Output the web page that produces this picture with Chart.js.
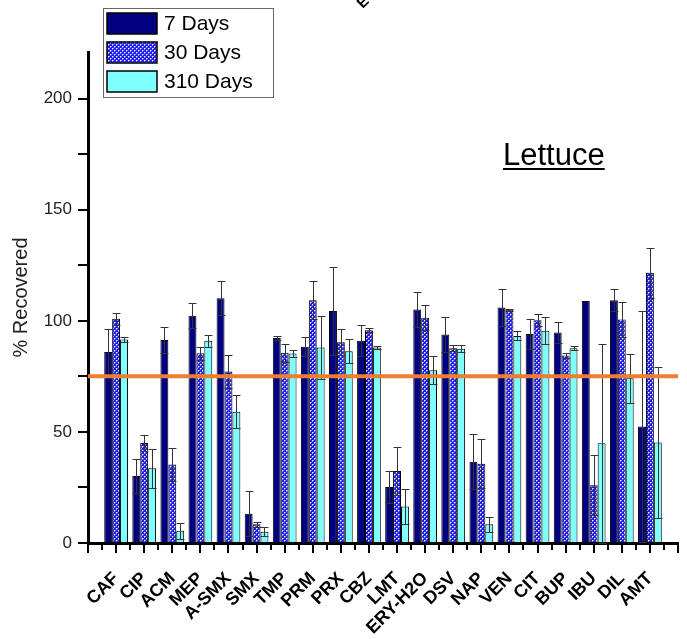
<!DOCTYPE html>
<html>
<head>
<meta charset="utf-8">
<script src="https://cdn.jsdelivr.net/npm/chart.js@4.4.1/dist/chart.umd.min.js"></script>
<style>
  html, body { margin: 0; padding: 0; background: #fff; }
  #wrap { position: relative; width: 687px; height: 639px; }
</style>
</head>
<body>
<div id="wrap"><canvas id="c" width="687" height="639"></canvas></div>
<script>
// Compounds analysed in lettuce
const compounds = ['CAF', 'CIP', 'ACM', 'MEP', 'A-SMX', 'SMX', 'TMP', 'PRM', 'PRX', 'CBZ',
                   'LMT', 'ERY-H2O', 'DSV', 'NAP', 'VEN', 'CIT', 'BUP', 'IBU', 'DIL', 'AMT'];

// % recovered after 7 days of storage, with standard deviation
const days7  = [86, 30.2, 91.4, 102.3, 110.2, 13.2, 92.3, 88.3, 104.4, 91, 25.2, 105.1, 93.8, 36.6, 106, 94.1, 94.7, 108.9, 109.3, 52.4];
const err7   = [10.5, 7.6, 6, 5.7, 7.7, 10, 1, 4.3, 20, 7, 7.2, 7.7, 8, 12.4, 8.3, 6.6, 4.7, 0, 5, 52];

// % recovered after 30 days
const days30 = [100.9, 45, 35.3, 85.4, 77.2, 8.4, 85.6, 109.3, 90.4, 95.8, 32.4, 101.4, 87.7, 35.7, 105, 100.3, 84.4, 26, 100.6, 121.6];
const err30  = [2.6, 3.5, 7.4, 3, 7.5, 1, 4, 8.5, 6, 1, 10.8, 5.5, 1.5, 11, 0.5, 2.7, 1, 13.6, 8, 11.3];

// % recovered after 310 days
const days310 = [91.6, 33.6, 5.5, 91, 59.1, 5.1, 85.3, 88, 86.3, 88, 16.4, 77.8, 87.4, 8.4, 93.2, 95.5, 87.7, 44.9, 74.2, 45.2];
const err310  = [1, 8.8, 3.6, 2.8, 7.4, 2, 1.6, 14, 5.4, 0.5, 7.8, 6.2, 1.6, 3.3, 2, 6, 1, 44.7, 11, 34];

const seriesLabels = ['7 Days', '30 Days', '310 Days'];
const yTickValues = [0, 25, 50, 75, 100, 125, 150, 175, 200];
const yLabelValues = [0, 50, 100, 150, 200];
const acceptLevel = 75;
const panelTitle = 'Lettuce';

const FONT = "'Liberation Sans', Arial, Helvetica, sans-serif";

// blue fill with a lattice of white dots
function dotPattern() {
  const t = document.createElement('canvas');
  t.width = 4; t.height = 4;
  const g = t.getContext('2d');
  g.fillStyle = '#1f1fe8';
  g.fillRect(0, 0, 4, 4);
  g.fillStyle = 'rgba(255,255,255,0.45)';
  g.fillRect(1, 0, 1, 1); g.fillRect(0, 1, 1, 1);
  g.fillRect(3, 2, 1, 1); g.fillRect(2, 3, 1, 1);
  g.fillStyle = '#ffffff';
  g.fillRect(0, 0, 1, 1);
  g.fillRect(2, 2, 1, 1);
  return g.createPattern(t, 'repeat');
}
const canvas = document.getElementById('c');
const pattern30 = dotPattern();

// one empty slot at each end so the axis runs a full category past the outer groups
const pad = arr => [null, ...arr, null];
const xLabels = ['', ...compounds, ''];

const fills = ['#000080', pattern30, '#80ffff'];

const errorBars = {
  id: 'errorBars',
  afterDatasetsDraw(chart) {
    const ctx = chart.ctx, y = chart.scales.y;
    ctx.save();
    ctx.strokeStyle = '#333';
    ctx.lineWidth = 1;
    chart.data.datasets.forEach((ds, i) => {
      const meta = chart.getDatasetMeta(i);
      meta.data.forEach((bar, j) => {
        const v = ds.data[j], e = ds.errors[j];
        if (v == null || !e) return;
        const x = Math.round(bar.x) + 0.5;
        const top = Math.round(y.getPixelForValue(v + e)) + 0.5;
        const bot = Math.round(y.getPixelForValue(Math.max(v - e, 0))) + 0.5;
        const hw = bar.width / 2;
        ctx.beginPath();
        ctx.moveTo(x, top); ctx.lineTo(x, bot);
        ctx.moveTo(x - hw, top); ctx.lineTo(x + hw, top);
        ctx.moveTo(x - hw, bot); ctx.lineTo(x + hw, bot);
        ctx.stroke();
      });
    });
    // acceptance level
    const ca = chart.chartArea;
    const ly = y.getPixelForValue(acceptLevel);
    ctx.strokeStyle = '#ed7d31';
    ctx.lineWidth = 4;
    ctx.beginPath();
    ctx.moveTo(ca.left, ly); ctx.lineTo(ca.right, ly);
    ctx.stroke();
    ctx.restore();
  }
};

const decorations = {
  id: 'decorations',
  afterDraw(chart) {
    const ctx = chart.ctx, x = chart.scales.x, ca = chart.chartArea;
    ctx.save();
    // minor ticks between categories
    ctx.strokeStyle = '#000';
    ctx.lineWidth = 2;
    for (let i = 0; i < xLabels.length - 1; i++) {
      const px = Math.round((x.getPixelForValue(i) + x.getPixelForValue(i + 1)) / 2);
      ctx.beginPath();
      ctx.moveTo(px, ca.bottom); ctx.lineTo(px, ca.bottom + 7);
      ctx.stroke();
    }

    // legend
    const lx = 103, ly = 8, lw = 170, lh = 89;
    ctx.strokeStyle = '#666';
    ctx.lineWidth = 1;
    ctx.strokeRect(lx + 0.5, ly + 0.5, lw, lh);
    chart.data.datasets.forEach((ds, i) => {
      const sy = 13 + i * 29;
      ctx.fillStyle = ds.backgroundColor;
      ctx.fillRect(107, sy, 50, 21);
      ctx.strokeStyle = '#000';
      ctx.lineWidth = 1.5;
      ctx.strokeRect(107, sy, 50, 21);
      ctx.fillStyle = '#000';
      ctx.font = '21px ' + FONT;
      ctx.textBaseline = 'middle';
      ctx.textAlign = 'left';
      ctx.fillText(ds.label, 164, sy + 11);
    });

    // panel title
    ctx.font = '31px ' + FONT;
    ctx.fillStyle = '#000';
    ctx.textBaseline = 'alphabetic';
    ctx.fillText(panelTitle, 503, 165);
    const tw = ctx.measureText(panelTitle).width;
    ctx.fillRect(503, 168, tw, 2);

    // letter of a neighbouring label cut by the top edge
    ctx.save();
    ctx.translate(367, -1);
    ctx.rotate(-Math.PI / 4);
    ctx.font = 'bold 15px ' + FONT;
    ctx.textAlign = 'right';
    ctx.textBaseline = 'middle';
    ctx.fillText('E', 0, 0);
    ctx.restore();
    ctx.restore();
  }
};

new Chart(canvas, {
  type: 'bar',
  data: {
    labels: xLabels,
    datasets: [
      { label: seriesLabels[0], data: pad(days7),   errors: pad(err7),   backgroundColor: fills[0] },
      { label: seriesLabels[1], data: pad(days30),  errors: pad(err30),  backgroundColor: fills[1] },
      { label: seriesLabels[2], data: pad(days310), errors: pad(err310), backgroundColor: fills[2] }
    ].map(d => Object.assign(d, {
      borderColor: '#000', borderWidth: 1, borderSkipped: 'bottom',
      categoryPercentage: 0.845, barPercentage: 1
    }))
  },
  options: {
    responsive: false,
    animation: false,
    devicePixelRatio: 1,
    layout: { padding: { top: 52, right: 9, left: 0, bottom: 0 } },
    plugins: { legend: { display: false }, tooltip: { enabled: false } },
    scales: {
      x: {
        type: 'category',
        offset: false,
        afterFit: s => { s.height = 96; s.paddingLeft = 0; s.paddingRight = 0; },
        grid: { drawOnChartArea: false, drawTicks: true, tickLength: 10, color: '#000', lineWidth: 2, offset: false },
        border: { display: true, color: '#000', width: 3 },
        ticks: {
          autoSkip: false, minRotation: 45, maxRotation: 45, padding: 15,
          color: '#000', font: { family: FONT, size: 18, weight: 'bold' }
        }
      },
      y: {
        min: 0, max: 221,
        afterFit: s => { s.width = 88; s.paddingTop = 0; s.paddingBottom = 0; },
        afterBuildTicks: s => { s.ticks = yTickValues.map(v => ({ value: v })); },
        grid: { drawOnChartArea: false, drawTicks: true, tickLength: 10, color: '#000', lineWidth: 2 },
        border: { display: true, color: '#000', width: 3 },
        ticks: {
          padding: 6, color: '#222', font: { family: FONT, size: 17 },
          callback: v => yLabelValues.includes(v) ? String(v) : ''
        },
        title: { display: true, text: '% Recovered', color: '#222', font: { family: FONT, size: 20 }, padding: { top: 9, bottom: 0 } }
      }
    }
  },
  plugins: [errorBars, decorations]
});
</script>
</body>
</html>
